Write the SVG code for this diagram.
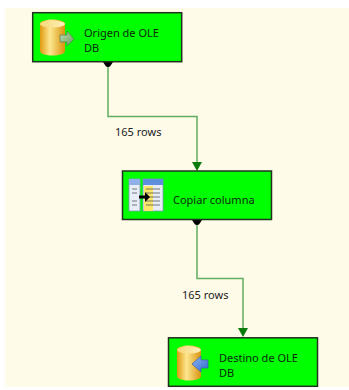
<svg xmlns="http://www.w3.org/2000/svg" width="349" height="390" viewBox="0 0 349 390">
<defs>
<linearGradient id="gold" x1="0" x2="1" y1="0" y2="0"><stop offset="0" stop-color="#e09a10"/><stop offset="0.4" stop-color="#fde78f"/><stop offset="1" stop-color="#d8930f"/></linearGradient>
<linearGradient id="goldtop" x1="0" x2="1" y1="0" y2="0"><stop offset="0" stop-color="#f8d878"/><stop offset="1" stop-color="#fdf0b8"/></linearGradient>
<linearGradient id="bluearrow" x1="0" x2="1" y1="0" y2="1"><stop offset="0" stop-color="#8fb8f4"/><stop offset="1" stop-color="#2f68d0"/></linearGradient>
<linearGradient id="greenarrow" x1="0" x2="1" y1="0" y2="1"><stop offset="0" stop-color="#c4dcb4"/><stop offset="1" stop-color="#5f9f58"/></linearGradient>
</defs>
<style>
.box{fill:#00ff00;stroke:#22301f;stroke-width:1.5}
.t{font-family:"Noto Sans","Liberation Sans",sans-serif;font-size:11px;fill:#0c2a0c}
.l{font-family:"Noto Sans","Liberation Sans",sans-serif;font-size:11px;fill:#222}
.c{fill:none;stroke:#5fae5f;stroke-width:1.5}
.port{fill:#000}
.head{fill:#0a7a0a}
</style>
<rect width="349" height="390" fill="#ffffff"/>
<rect x="5" y="8" width="344" height="379" fill="#fffbe9"/>
<g id="connectors">
<path class="c" d="M108 62V116.500H197V166"/>
<path class="c" d="M197 220V278.500H243V333"/>
<path class="head" d="M192 162H202L197 171Z"/>
<path class="head" d="M238 328H248L243 337Z"/>
<path class="port" d="M103 62H113L111 65H105Z"/><circle class="port" cx="108" cy="64" r="3"/>
<path class="port" d="M192 220H202L200 223H194Z"/><circle class="port" cx="197" cy="222" r="3"/>
<text class="l" x="115" y="136">165 rows</text>
<text class="l" x="182" y="299">165 rows</text>
</g>
<g id="origen">
<rect class="box" x="32.700" y="12.700" width="149" height="49"/>
<path d="M40 24c0-6 25-6 25 0v27c0 6-25 6-25 0Z" fill="url(#gold)"/>
<ellipse cx="52.500" cy="24" rx="12.500" ry="3.500" fill="url(#goldtop)"/>
<path d="M60 35h7v-4l7 8-7 7v-4h-7Z" fill="url(#greenarrow)" stroke="#5a7a50" stroke-width="0.700"/>
<text class="t" x="84" y="37">Origen de OLE</text>
<text class="t" x="84" y="52">DB</text>
</g>
<g id="copiar">
<rect class="box" x="122.500" y="171" width="149" height="48.500"/>
<rect x="129" y="179" width="11" height="32" fill="#e8eef8" stroke="#7f92b8" stroke-width="0.800"/>
<rect x="129" y="179" width="11" height="6" fill="#8fb0e8"/>
<rect x="143" y="179" width="20" height="32" fill="#e8eef8" stroke="#7f92b8" stroke-width="0.800"/>
<rect x="143" y="179" width="20" height="6" fill="#5f8fdc"/>
<rect x="144" y="186" width="9" height="25" fill="#fbe66a"/>
<path d="M132 189h5M132 193h5M132 201h5M132 205h5M146 189h14M146 193h14M146 197h14M146 201h14M146 205h14" stroke="#555" stroke-width="0.800" fill="none"/>
<path d="M139 195.500h6v-3.500l5 5-5 5v-3.500h-6Z" fill="#000"/>
<text class="t" x="173" y="204">Copiar columna</text>
</g>
<g id="destino">
<rect class="box" x="168.500" y="337.800" width="149" height="48.500"/>
<path d="M177 350c0-6 24-6 24 0v26c0 6-24 6-24 0Z" fill="url(#gold)"/>
<ellipse cx="189" cy="350" rx="12" ry="3.500" fill="url(#goldtop)"/>
<path d="M208 360h-7v-4l-9 8 9 8v-4h7Z" fill="url(#bluearrow)" stroke="#3a5fa8" stroke-width="0.700"/>
<text class="t" x="219" y="362">Destino de OLE</text>
<text class="t" x="219" y="377">DB</text>
</g>
</svg>
